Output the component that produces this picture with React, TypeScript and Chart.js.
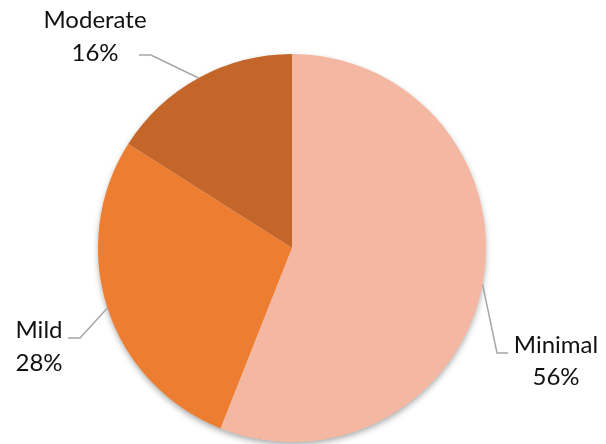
import React, { useEffect, useRef } from "react";
import { Chart, registerables } from "chart.js";

Chart.register(...registerables);

const categories = ["Minimal", "Mild", "Moderate"];
const values = [56, 28, 16];
const valueLabels = ["56%", "28%", "16%"];
const colors = ["#F4B8A2", "#ED7D31", "#C4652A"];

// label layout: elbow point, end of leader, text center x, baselines
const labelLayout = [
  { elbow: [497, 353], end: [508, 353], tx: 556, b1: 353, b2: 385 },
  { elbow: [80, 338], end: [68, 338], tx: 39, b1: 338, b2: 371 },
  { elbow: [151, 55], end: [139, 55], tx: 95, b1: 28, b2: 61 },
];

const labelPlugin = {
  id: "pieLabels",
  beforeDatasetsDraw(chart: any) {
    const meta = chart.getDatasetMeta(0);
    const a = meta.data[0];
    if (!a) return;
    const ctx = chart.ctx;
    ctx.save();
    ctx.shadowColor = "rgba(0,0,0,0.35)";
    ctx.shadowBlur = 6;
    ctx.shadowOffsetX = 0;
    ctx.shadowOffsetY = 3;
    ctx.fillStyle = "#ffffff";
    ctx.beginPath();
    ctx.arc(a.x, a.y, a.outerRadius - 0.5, 0, Math.PI * 2);
    ctx.fill();
    ctx.restore();
  },
  afterDraw(chart: any) {
    const ctx = chart.ctx;
    const meta = chart.getDatasetMeta(0);
    meta.data.forEach((arc: any, i: number) => {
      const mid = (arc.startAngle + arc.endAngle) / 2;
      const sx = arc.x + Math.cos(mid) * arc.outerRadius;
      const sy = arc.y + Math.sin(mid) * arc.outerRadius;
      const L = labelLayout[i];
      ctx.save();
      ctx.strokeStyle = "#A6A6A6";
      ctx.lineWidth = 1.5;
      ctx.beginPath();
      ctx.moveTo(sx, sy);
      ctx.lineTo(L.elbow[0], L.elbow[1]);
      ctx.lineTo(L.end[0], L.end[1]);
      ctx.stroke();
      ctx.fillStyle = "#111111";
      ctx.font = "24px Lato";
      ctx.textAlign = "center";
      ctx.textBaseline = "alphabetic";
      ctx.fillText(categories[i], L.tx, L.b1);
      ctx.fillText(valueLabels[i], L.tx, L.b2);
      ctx.restore();
    });
  },
};

export default function App() {
  const ref = useRef<HTMLCanvasElement>(null);
  useEffect(() => {
    if (!ref.current) return;
    const chart = new Chart(ref.current, {
      type: "pie",
      data: {
        labels: categories,
        datasets: [
          {
            data: values,
            backgroundColor: colors,
            borderWidth: 0,
          },
        ],
      },
      options: {
        responsive: false,
        animation: false,
        layout: { padding: { left: 98, right: 120, top: 54, bottom: 2 } },
        plugins: {
          legend: { display: false },
          tooltip: { enabled: false },
        },
      },
      plugins: [labelPlugin],
    });
    return () => chart.destroy();
  }, []);
  return (
    <div style={{ position: "absolute", left: 0, top: 0, width: 606, height: 444, background: "#fff" }}>
      <canvas ref={ref} width={606} height={444} style={{ display: "block" }} />
    </div>
  );
}
